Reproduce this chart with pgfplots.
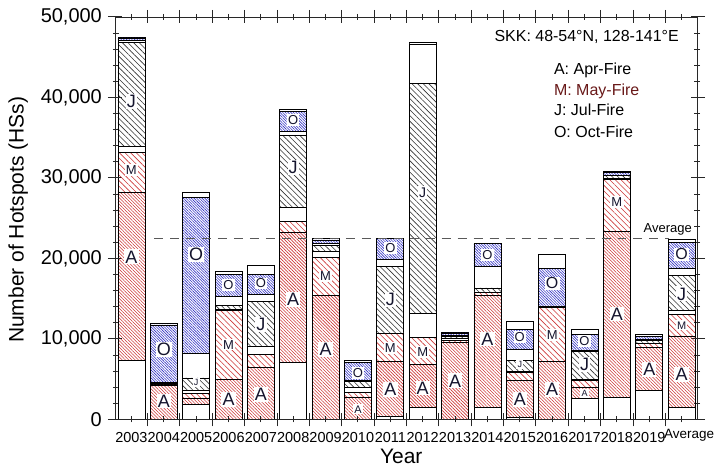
\documentclass[border=0pt]{standalone}
\usepackage{fontspec}
\setmainfont{Liberation Sans}
\usepackage{pgfplots}
\pgfplotsset{compat=1.18}
\usepackage{pgfplotstable}
\usetikzlibrary{patterns.meta}

\definecolor{hred}{RGB}{205,55,55}
\definecolor{hblue}{RGB}{50,50,195}
\definecolor{hblack}{RGB}{50,50,50}
\definecolor{lblred}{RGB}{105,25,25}
\definecolor{labc}{RGB}{20,20,45}
\definecolor{tkc}{RGB}{40,40,40}
\tikzset{lab/.style={fill=white, inner sep=1.2bp, text=labc}}

% values in hotspots, stacked from bottom: before Apr, Apr, May, Jun, Jul, Aug-Sep, Oct, after Oct
\pgfplotstableread{
x pre apr may jun jul as oct post
0 7400 20800 5000 700 12900 300 300 100
1 0 4300 100 50 150 50 7100 250
2 1870 800 600 400 1500 3100 19300 600
3 0 5000 8600 100 500 1100 2700 400
4 0 6430 1660 1040 5500 900 2500 1160
5 7060 16200 1350 1800 8850 500 2500 300
6 0 15360 4750 800 700 300 400 200
7 0 2800 600 600 800 50 2200 350
8 400 6860 3400 100 8300 800 2600 100
9 1450 5400 3300 3000 28600 4900 0 150
10 0 9550 300 200 300 100 300 100
11 1540 13900 300 100 500 2700 2800 100
12 300 4560 950 200 1350 1350 2500 950
13 0 7260 6700 50 50 50 4700 1660
14 2600 1350 950 50 3500 200 1900 600
15 2780 20600 6400 200 300 100 300 100
16 3650 5270 500 100 250 200 350 200
17 1540 8840 2700 500 4280 950 3200 400
}\hsdata

\newcommand{\Lg}{\fontsize{18bp}{18bp}\selectfont}
\newcommand{\Md}{\fontsize{13bp}{13bp}\selectfont}
\newcommand{\Sm}{\fontsize{9bp}{9bp}\selectfont}

\pgfplotsset{
  chartframe/.style={
    at={(116bp,49bp)}, anchor=south west,
    scale only axis, width=582bp, height=403bp,
    xmin=-0.48, xmax=17.48, ymin=0, ymax=50000,
    axis line style={draw=tkc, line width=0.9bp},
    every tick/.append style={draw=tkc, line width=1bp},
    tick align=center,
  },
  tickline/.style={draw=tkc, line width=1bp, unbounded coords=jump, mark=none, forget plot},
}

\begin{document}
\begin{tikzpicture}
\path (0,0) rectangle (714bp,469bp);
% bars and y axis
\begin{axis}[
  chartframe,
  ybar stacked, bar width=27bp,
  major tick length=13bp, minor tick length=6bp,
  xtick=\empty,
  ytick={0,10000,20000,30000,40000,50000},
  minor ytick={2000,4000,6000,8000,12000,14000,16000,18000,22000,24000,26000,28000,32000,34000,36000,38000,42000,44000,46000,48000},
  scaled y ticks=false,
  /pgf/number format/assume math mode=true,
  yticklabel style={/pgf/number format/fixed, /pgf/number format/1000 sep={,}, font=\fontsize{20bp}{20bp}\selectfont, xshift=-4bp},
  ylabel={Number of Hotspots (HSs)},
  label style={font=\fontsize{21bp}{21bp}\selectfont},
  ylabel style={at={(axis description cs:-0.168,0.496)}, anchor=center},
]
\addplot[draw=black, line width=0.7bp, fill=white] table[x=x,y=pre]{\hsdata};
\addplot[draw=black, line width=0.7bp, pattern={Lines[angle=-45,distance=2.3bp,line width=0.55bp]}, pattern color=hred] table[x=x,y=apr]{\hsdata};
\addplot[draw=black, line width=0.7bp, pattern={Lines[angle=-45,distance=4bp,line width=0.6bp]}, pattern color=hred] table[x=x,y=may]{\hsdata};
\addplot[draw=black, line width=0.7bp, fill=white] table[x=x,y=jun]{\hsdata};
\addplot[draw=black, line width=0.7bp, pattern={Lines[angle=-45,distance=4bp,line width=0.6bp]}, pattern color=hblack] table[x=x,y=jul]{\hsdata};
\addplot[draw=black, line width=0.7bp, fill=white] table[x=x,y=as]{\hsdata};
\addplot[draw=black, line width=0.7bp, pattern={Lines[angle=-45,distance=1.9bp,line width=0.6bp]}, pattern color=hblue] table[x=x,y=oct]{\hsdata};
\addplot[draw=black, line width=0.7bp, fill=white] table[x=x,y=post]{\hsdata};
\end{axis}

% x axis labels, ticks, annotations
\begin{axis}[
  chartframe,
  clip=false,
  major tick length=6bp, minor tick length=13bp,
  ytick=\empty,
  xtick={0,1,...,17},
  xticklabels={2003,2004,2005,2006,2007,2008,2009,2010,2011,2012,2013,2014,2015,2016,2017,2018,2019,{}},
  minor xtick={0.5,1.5,...,16.5},
  xticklabel style={font=\fontsize{14.5bp}{14.5bp}\selectfont, yshift=-6bp},
  xlabel={Year},
  label style={font=\fontsize{21bp}{21bp}\selectfont},
  xlabel style={at={(axis description cs:0.491,-0.092)}, anchor=center},
]
% tick marks drawn as well as plots (1bp = 124.07 y-units = 0.03086 x-units)
\addplot[tickline] coordinates {
(0.5,-868) (0.5,620) (nan,nan) (1.5,-868) (1.5,620) (nan,nan) (2.5,-868) (2.5,620) (nan,nan)
(3.5,-868) (3.5,620) (nan,nan) (4.5,-868) (4.5,620) (nan,nan) (5.5,-868) (5.5,620) (nan,nan)
(6.5,-868) (6.5,620) (nan,nan) (7.5,-868) (7.5,620) (nan,nan) (8.5,-868) (8.5,620) (nan,nan)
(9.5,-868) (9.5,620) (nan,nan) (10.5,-868) (10.5,620) (nan,nan) (11.5,-868) (11.5,620) (nan,nan)
(12.5,-868) (12.5,620) (nan,nan) (13.5,-868) (13.5,620) (nan,nan) (14.5,-868) (14.5,620) (nan,nan)
(15.5,-868) (15.5,620) (nan,nan) (16.5,-868) (16.5,620) (nan,nan)
(0.5,50868) (0.5,49380) (nan,nan) (1.5,50868) (1.5,49380) (nan,nan) (2.5,50868) (2.5,49380) (nan,nan)
(3.5,50868) (3.5,49380) (nan,nan) (4.5,50868) (4.5,49380) (nan,nan) (5.5,50868) (5.5,49380) (nan,nan)
(6.5,50868) (6.5,49380) (nan,nan) (7.5,50868) (7.5,49380) (nan,nan) (8.5,50868) (8.5,49380) (nan,nan)
(9.5,50868) (9.5,49380) (nan,nan) (10.5,50868) (10.5,49380) (nan,nan) (11.5,50868) (11.5,49380) (nan,nan)
(12.5,50868) (12.5,49380) (nan,nan) (13.5,50868) (13.5,49380) (nan,nan) (14.5,50868) (14.5,49380) (nan,nan)
(15.5,50868) (15.5,49380) (nan,nan) (16.5,50868) (16.5,49380)
};
\addplot[tickline] coordinates {
(-0.7269,0) (-0.3257,0) (nan,nan) (-0.7269,10000) (-0.3257,10000) (nan,nan) (-0.7269,20000) (-0.3257,20000) (nan,nan)
(-0.7269,30000) (-0.3257,30000) (nan,nan) (-0.7269,40000) (-0.3257,40000) (nan,nan) (-0.7269,50000) (-0.3257,50000) (nan,nan)
(17.7269,0) (17.3257,0) (nan,nan) (17.7269,10000) (17.3257,10000) (nan,nan) (17.7269,20000) (17.3257,20000) (nan,nan)
(17.7269,30000) (17.3257,30000) (nan,nan) (17.7269,40000) (17.3257,40000) (nan,nan) (17.7269,50000) (17.3257,50000)
};
% average line
\addplot[black!65, line width=0.9bp, dash pattern=on 9bp off 7bp, forget plot] coordinates {(0.7,22450) (16.6,22450)};
\node[anchor=base west, font=\fontsize{13bp}{13bp}\selectfont] at (axis cs:15.72,23200) {Average};
\node[anchor=base east, font=\fontsize{16bp}{16bp}\selectfont] at (axis cs:17.02,46950) {SKK: 48-54°N, 128-141°E};
\node[anchor=base west, font=\fontsize{16bp}{16bp}\selectfont] at (axis cs:12.95,42840) {A: Apr-Fire};
\node[anchor=base west, font=\fontsize{16bp}{16bp}\selectfont, text=lblred] at (axis cs:12.95,40220) {M: May-Fire};
\node[anchor=base west, font=\fontsize{16bp}{16bp}\selectfont] at (axis cs:12.95,37700) {J: Jul-Fire};
\node[anchor=base west, font=\fontsize{16bp}{16bp}\selectfont] at (axis cs:12.95,35080) {O: Oct-Fire};
\node[anchor=north west, inner sep=0pt, font=\fontsize{13.5bp}{13.5bp}\selectfont] at (axis cs:16.45,0) [yshift=-10bp] {Average};
% segment letters
\node[lab,font=\Lg] at (axis cs:0,20200) {A};
\node[lab,font=\Md] at (axis cs:0,31000) {M};
\node[lab,font=\Lg] at (axis cs:0,39500) {J};
\node[lab,font=\Lg] at (axis cs:1,8700) {O};
\node[lab,font=\Lg] at (axis cs:1,2300) {A};
\node[lab,font=\Lg] at (axis cs:2,20500) {O};
\node[lab,font=\Sm] at (axis cs:2,4600) {J};
\node[lab,font=\Md] at (axis cs:3,16700) {O};
\node[lab,font=\Md] at (axis cs:3,9300) {M};
\node[lab,font=\Lg] at (axis cs:3,2500) {A};
\node[lab,font=\Md] at (axis cs:4,16900) {O};
\node[lab,font=\Lg] at (axis cs:4,11800) {J};
\node[lab,font=\Lg] at (axis cs:4,3100) {A};
\node[lab,font=\Md] at (axis cs:5,37200) {O};
\node[lab,font=\Lg] at (axis cs:5,31300) {J};
\node[lab,font=\Lg] at (axis cs:5,14900) {A};
\node[lab,font=\Md] at (axis cs:6,17800) {M};
\node[lab,font=\Lg] at (axis cs:6,8700) {A};
\node[lab,font=\Md] at (axis cs:7,5800) {O};
\node[lab,font=\fontsize{11bp}{11bp}\selectfont] at (axis cs:7,1250) {A};
\node[lab,font=\Md] at (axis cs:8,21300) {O};
\node[lab,font=\Lg] at (axis cs:8,14900) {J};
\node[lab,font=\Md] at (axis cs:8,8900) {M};
\node[lab,font=\Lg] at (axis cs:8,3700) {A};
\node[lab,font=\fontsize{14bp}{14bp}\selectfont] at (axis cs:9,28200) {J};
\node[lab,font=\Md] at (axis cs:9,8400) {M};
\node[lab,font=\Lg] at (axis cs:9,3900) {A};
\node[lab,font=\Lg] at (axis cs:10,4800) {A};
\node[lab,font=\Md] at (axis cs:11,20400) {O};
\node[lab,font=\Lg] at (axis cs:11,10000) {A};
\node[lab,font=\Md] at (axis cs:12,10250) {O};
\node[lab,font=\Sm] at (axis cs:12,6850) {J};
\node[lab,font=\Lg] at (axis cs:12,2500) {A};
\node[lab,font=\fontsize{16bp}{16bp}\selectfont] at (axis cs:13,16900) {O};
\node[lab,font=\Md] at (axis cs:13,10500) {M};
\node[lab,font=\Lg] at (axis cs:13,3700) {A};
\node[lab,font=\Md] at (axis cs:14,9750) {O};
\node[lab,font=\Lg] at (axis cs:14,6850) {J};
\node[lab,font=\Sm] at (axis cs:14,3200) {A};
\node[lab,font=\Md] at (axis cs:15,27000) {M};
\node[lab,font=\Lg] at (axis cs:15,13100) {A};
\node[lab,font=\Lg] at (axis cs:16,6200) {A};
\node[lab,font=\fontsize{16bp}{16bp}\selectfont] at (axis cs:17,20500) {O};
\node[lab,font=\Lg] at (axis cs:17,15600) {J};
\node[lab,font=\fontsize{11bp}{11bp}\selectfont] at (axis cs:17,11700) {M};
\node[lab,font=\Lg] at (axis cs:17,5600) {A};
\end{axis}
\end{tikzpicture}
\end{document}
